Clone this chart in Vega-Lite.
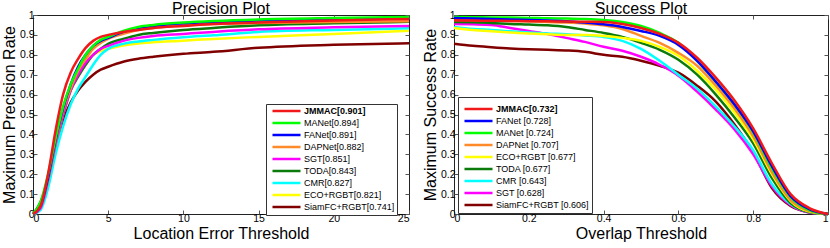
{
  "$schema": "https://vega.github.io/schema/vega-lite/v6.json",
  "padding": {"left": 0, "top": 0, "right": 0, "bottom": 0},
  "background": "white",
  "spacing": 6,
  "config": {
    "font": "Liberation Sans",
    "view": {"stroke": "#222", "strokeWidth": 1},
    "axis": {
      "domain": false, "grid": false, "tickColor": "#555", "tickSize": -4,
      "labelFont": "Liberation Sans", "labelFontSize": 10.5, "labelColor": "black", "labelPadding": 3,
      "titleFont": "Liberation Sans", "titleFontSize": 16, "titleFontWeight": "normal", "titleColor": "black", "titlePadding": 2
    },
    "title": {"font": "Liberation Sans", "fontSize": 16, "fontWeight": "normal", "color": "black", "offset": -7},
    "legend": {
      "orient": "none", "title": null, "strokeColor": "#333", "fillColor": "white", "padding": 2.5,
      "symbolType": "M-4.67,0H4.67", "symbolSize": 36, "symbolStrokeWidth": 2.5, "symbolOffset": 13.5,
      "labelFont": "Liberation Sans", "labelFontSize": 9, "labelColor": "black", "labelOffset": 13, "rowPadding": 1
    }
  },
  "datasets": {
    "prec": [
      {"x": 0, "J": 0, "M": 0, "F": 0, "D": 0, "S": 0, "T": 0, "C": 0, "E": 0, "Si": 0},
      {"x": 0.5, "J": 0.04, "M": 0.06, "F": 0.04, "D": 0.04, "S": 0.03, "T": 0.06, "C": 0.02, "E": 0.03, "Si": 0.04},
      {"x": 1, "J": 0.2, "M": 0.2, "F": 0.18, "D": 0.17, "S": 0.17, "T": 0.18, "C": 0.13, "E": 0.16, "Si": 0.16},
      {"x": 1.5, "J": 0.42, "M": 0.38, "F": 0.37, "D": 0.36, "S": 0.35, "T": 0.36, "C": 0.3, "E": 0.34, "Si": 0.33},
      {"x": 2, "J": 0.6, "M": 0.54, "F": 0.53, "D": 0.52, "S": 0.5, "T": 0.5, "C": 0.44, "E": 0.5, "Si": 0.47},
      {"x": 2.5, "J": 0.71, "M": 0.65, "F": 0.65, "D": 0.63, "S": 0.62, "T": 0.62, "C": 0.55, "E": 0.62, "Si": 0.56},
      {"x": 3, "J": 0.78, "M": 0.73, "F": 0.74, "D": 0.72, "S": 0.7, "T": 0.69, "C": 0.63, "E": 0.72, "Si": 0.62},
      {"x": 3.5, "J": 0.835, "M": 0.8, "F": 0.8, "D": 0.78, "S": 0.76, "T": 0.75, "C": 0.69, "E": 0.77, "Si": 0.665},
      {"x": 4, "J": 0.87, "M": 0.845, "F": 0.845, "D": 0.83, "S": 0.8, "T": 0.8, "C": 0.75, "E": 0.8, "Si": 0.7},
      {"x": 4.5, "J": 0.89, "M": 0.875, "F": 0.87, "D": 0.86, "S": 0.83, "T": 0.83, "C": 0.8, "E": 0.82, "Si": 0.725},
      {"x": 5, "J": 0.9, "M": 0.89, "F": 0.885, "D": 0.88, "S": 0.845, "T": 0.855, "C": 0.83, "E": 0.83, "Si": 0.74},
      {"x": 6, "J": 0.915, "M": 0.92, "F": 0.915, "D": 0.905, "S": 0.87, "T": 0.88, "C": 0.855, "E": 0.847, "Si": 0.765},
      {"x": 7, "J": 0.925, "M": 0.94, "F": 0.935, "D": 0.925, "S": 0.885, "T": 0.9, "C": 0.867, "E": 0.857, "Si": 0.78},
      {"x": 8, "J": 0.935, "M": 0.95, "F": 0.945, "D": 0.935, "S": 0.895, "T": 0.91, "C": 0.875, "E": 0.863, "Si": 0.79},
      {"x": 10, "J": 0.945, "M": 0.962, "F": 0.958, "D": 0.948, "S": 0.905, "T": 0.925, "C": 0.888, "E": 0.871, "Si": 0.805},
      {"x": 12, "J": 0.955, "M": 0.97, "F": 0.965, "D": 0.955, "S": 0.915, "T": 0.935, "C": 0.898, "E": 0.88, "Si": 0.815},
      {"x": 15, "J": 0.962, "M": 0.978, "F": 0.972, "D": 0.96, "S": 0.928, "T": 0.948, "C": 0.915, "E": 0.89, "Si": 0.835},
      {"x": 20, "J": 0.972, "M": 0.985, "F": 0.978, "D": 0.965, "S": 0.938, "T": 0.958, "C": 0.925, "E": 0.905, "Si": 0.85},
      {"x": 25, "J": 0.98, "M": 0.99, "F": 0.982, "D": 0.968, "S": 0.945, "T": 0.966, "C": 0.933, "E": 0.921, "Si": 0.858}
    ],
    "succ": [
      {"x": 0, "J": 0.973, "M": 0.99, "F": 0.985, "D": 0.975, "E": 0.935, "T": 0.965, "C": 0.94, "S": 0.955, "Si": 0.855},
      {"x": 0.05, "J": 0.972, "M": 0.989, "F": 0.983, "D": 0.974, "E": 0.925, "T": 0.963, "C": 0.93, "S": 0.953, "Si": 0.845},
      {"x": 0.1, "J": 0.971, "M": 0.988, "F": 0.98, "D": 0.972, "E": 0.918, "T": 0.96, "C": 0.925, "S": 0.95, "Si": 0.838},
      {"x": 0.15, "J": 0.97, "M": 0.987, "F": 0.978, "D": 0.97, "E": 0.912, "T": 0.955, "C": 0.918, "S": 0.935, "Si": 0.832},
      {"x": 0.2, "J": 0.969, "M": 0.985, "F": 0.975, "D": 0.968, "E": 0.907, "T": 0.952, "C": 0.912, "S": 0.92, "Si": 0.828},
      {"x": 0.25, "J": 0.968, "M": 0.984, "F": 0.972, "D": 0.965, "E": 0.903, "T": 0.948, "C": 0.907, "S": 0.905, "Si": 0.826},
      {"x": 0.3, "J": 0.967, "M": 0.982, "F": 0.969, "D": 0.962, "E": 0.9, "T": 0.94, "C": 0.903, "S": 0.885, "Si": 0.822},
      {"x": 0.35, "J": 0.966, "M": 0.98, "F": 0.962, "D": 0.957, "E": 0.9, "T": 0.925, "C": 0.897, "S": 0.865, "Si": 0.815},
      {"x": 0.4, "J": 0.965, "M": 0.975, "F": 0.953, "D": 0.948, "E": 0.895, "T": 0.91, "C": 0.89, "S": 0.84, "Si": 0.8},
      {"x": 0.45, "J": 0.955, "M": 0.965, "F": 0.94, "D": 0.93, "E": 0.885, "T": 0.89, "C": 0.87, "S": 0.82, "Si": 0.79},
      {"x": 0.5, "J": 0.935, "M": 0.945, "F": 0.92, "D": 0.895, "E": 0.87, "T": 0.86, "C": 0.83, "S": 0.79, "Si": 0.77},
      {"x": 0.55, "J": 0.905, "M": 0.91, "F": 0.895, "D": 0.86, "E": 0.84, "T": 0.825, "C": 0.77, "S": 0.75, "Si": 0.745},
      {"x": 0.6, "J": 0.86, "M": 0.86, "F": 0.85, "D": 0.81, "E": 0.795, "T": 0.775, "C": 0.7, "S": 0.695, "Si": 0.71},
      {"x": 0.65, "J": 0.785, "M": 0.77, "F": 0.77, "D": 0.745, "E": 0.72, "T": 0.7, "C": 0.63, "S": 0.615, "Si": 0.645},
      {"x": 0.7, "J": 0.685, "M": 0.665, "F": 0.665, "D": 0.645, "E": 0.625, "T": 0.6, "C": 0.54, "S": 0.525, "Si": 0.565},
      {"x": 0.75, "J": 0.57, "M": 0.55, "F": 0.55, "D": 0.53, "E": 0.51, "T": 0.485, "C": 0.44, "S": 0.425, "Si": 0.45},
      {"x": 0.8, "J": 0.43, "M": 0.41, "F": 0.415, "D": 0.39, "E": 0.375, "T": 0.355, "C": 0.32, "S": 0.3, "Si": 0.31},
      {"x": 0.85, "J": 0.255, "M": 0.23, "F": 0.24, "D": 0.21, "E": 0.2, "T": 0.18, "C": 0.15, "S": 0.14, "Si": 0.13},
      {"x": 0.9, "J": 0.1, "M": 0.085, "F": 0.09, "D": 0.07, "E": 0.065, "T": 0.055, "C": 0.05, "S": 0.045, "Si": 0.04},
      {"x": 0.95, "J": 0.03, "M": 0.02, "F": 0.025, "D": 0.015, "E": 0.012, "T": 0.01, "C": 0.01, "S": 0.008, "Si": 0.008},
      {"x": 1, "J": 0, "M": 0, "F": 0, "D": 0, "E": 0, "T": 0, "C": 0, "S": 0, "Si": 0}
    ],
    "plab": [
      {"k": "J", "label": "JMMAC[0.901]"},
      {"k": "M", "label": "MANet[0.894]"},
      {"k": "F", "label": "FANet[0.891]"},
      {"k": "D", "label": "DAPNet[0.882]"},
      {"k": "S", "label": "SGT[0.851]"},
      {"k": "T", "label": "TODA[0.843]"},
      {"k": "C", "label": "CMR[0.827]"},
      {"k": "E", "label": "ECO+RGBT[0.821]"},
      {"k": "Si", "label": "SiamFC+RGBT[0.741]"}
    ],
    "slab": [
      {"k": "J", "label": "JMMAC[0.732]"},
      {"k": "F", "label": "FANet [0.728]"},
      {"k": "M", "label": "MANet [0.724]"},
      {"k": "D", "label": "DAPNet [0.707]"},
      {"k": "E", "label": "ECO+RGBT [0.677]"},
      {"k": "T", "label": "TODA [0.677]"},
      {"k": "C", "label": "CMR [0.643]"},
      {"k": "S", "label": "SGT [0.628]"},
      {"k": "Si", "label": "SiamFC+RGBT [0.606]"}
    ]
  },
  "hconcat": [
    {
      "width": 376, "height": 199,
      "title": "Precision Plot",
      "layer": [
        {
          "data": {"name": "prec"},
          "transform": [
            {"fold": ["Si", "E", "C", "T", "S", "D", "F", "M", "J"], "as": ["k", "y"]},
            {"lookup": "k", "from": {"data": {"name": "plab"}, "key": "k", "fields": ["label"]}}
          ],
          "mark": {"type": "line", "strokeWidth": 2.5, "interpolate": "monotone"},
          "encoding": {
            "x": {"field": "x", "type": "quantitative", "scale": {"domain": [0, 25], "nice": false},
                  "axis": {"values": [0, 5, 10, 15, 20, 25], "title": "Location Error Threshold"}},
            "y": {"field": "y", "type": "quantitative", "scale": {"domain": [0, 1], "nice": false},
                  "axis": {"values": [0, 0.1, 0.2, 0.3, 0.4, 0.5, 0.6, 0.7, 0.8, 0.9, 1], "format": "~g", "title": "Maximum Precision Rate"}},
            "color": {"field": "label", "type": "nominal",
              "scale": {"domain": ["JMMAC[0.901]", "MANet[0.894]", "FANet[0.891]", "DAPNet[0.882]", "SGT[0.851]", "TODA[0.843]", "CMR[0.827]", "ECO+RGBT[0.821]", "SiamFC+RGBT[0.741]"],
                        "range": ["#f01818", "#00ff00", "#0000ff", "#ff8a2a", "#ff00ff", "#0a7a0a", "#00ffff", "#ffff00", "#800000"]},
              "legend": {"legendX": 233, "legendY": 89,
                "encode": {"labels": {"update": {"fontWeight": {"signal": "indexof(datum.value, 'JMMAC') === 0 ? 'bold' : 'normal'"}}}}}
            }
          }
        },
        {
          "data": {"name": "prec"},
          "mark": {"type": "point", "opacity": 0},
          "encoding": {
            "x": {"field": "x", "type": "quantitative", "axis": {"orient": "top", "values": [0, 5, 10, 15, 20, 25], "labels": false, "title": null}},
            "y": {"field": "J", "type": "quantitative", "axis": {"orient": "right", "values": [0, 0.1, 0.2, 0.3, 0.4, 0.5, 0.6, 0.7, 0.8, 0.9, 1], "labels": false, "title": null}}
          }
        }
      ],
      "resolve": {"axis": {"x": "independent", "y": "independent"}}
    },
    {
      "width": 374, "height": 199,
      "title": "Success Plot",
      "layer": [
        {
          "data": {"name": "succ"},
          "transform": [
            {"fold": ["Si", "S", "C", "T", "E", "D", "M", "F", "J"], "as": ["k", "y"]},
            {"lookup": "k", "from": {"data": {"name": "slab"}, "key": "k", "fields": ["label"]}}
          ],
          "mark": {"type": "line", "strokeWidth": 2.5, "interpolate": "monotone"},
          "encoding": {
            "x": {"field": "x", "type": "quantitative", "scale": {"domain": [0, 1], "nice": false},
                  "axis": {"values": [0, 0.2, 0.4, 0.6, 0.8, 1], "format": "~g", "title": "Overlap Threshold"}},
            "y": {"field": "y", "type": "quantitative", "scale": {"domain": [0, 1], "nice": false},
                  "axis": {"values": [0, 0.1, 0.2, 0.3, 0.4, 0.5, 0.6, 0.7, 0.8, 0.9, 1], "format": "~g", "title": "Maximum Success Rate"}},
            "color": {"field": "label", "type": "nominal",
              "scale": {"domain": ["JMMAC[0.732]", "FANet [0.728]", "MANet [0.724]", "DAPNet [0.707]", "ECO+RGBT [0.677]", "TODA [0.677]", "CMR [0.643]", "SGT [0.628]", "SiamFC+RGBT [0.606]"],
                        "range": ["#f01818", "#0000ff", "#00ff00", "#ff8a2a", "#ffff00", "#0a7a0a", "#00ffff", "#ff00ff", "#800000"]},
              "legend": {"legendX": 4, "legendY": 82, "title": " ", "titleFontSize": 4, "titlePadding": 1,
                "encode": {"labels": {"update": {"fontWeight": {"signal": "indexof(datum.value, 'JMMAC') === 0 ? 'bold' : 'normal'"}}}}}
            }
          }
        },
        {
          "data": {"name": "succ"},
          "mark": {"type": "point", "opacity": 0},
          "encoding": {
            "x": {"field": "x", "type": "quantitative", "axis": {"orient": "top", "values": [0, 0.2, 0.4, 0.6, 0.8, 1], "labels": false, "title": null}},
            "y": {"field": "J", "type": "quantitative", "axis": {"orient": "right", "values": [0, 0.1, 0.2, 0.3, 0.4, 0.5, 0.6, 0.7, 0.8, 0.9, 1], "labels": false, "title": null}}
          }
        }
      ],
      "resolve": {"axis": {"x": "independent", "y": "independent"}, "scale": {"color": "independent"}, "legend": {"color": "independent"}}
    }
  ],
  "resolve": {"scale": {"color": "independent"}, "legend": {"color": "independent"}}
}
